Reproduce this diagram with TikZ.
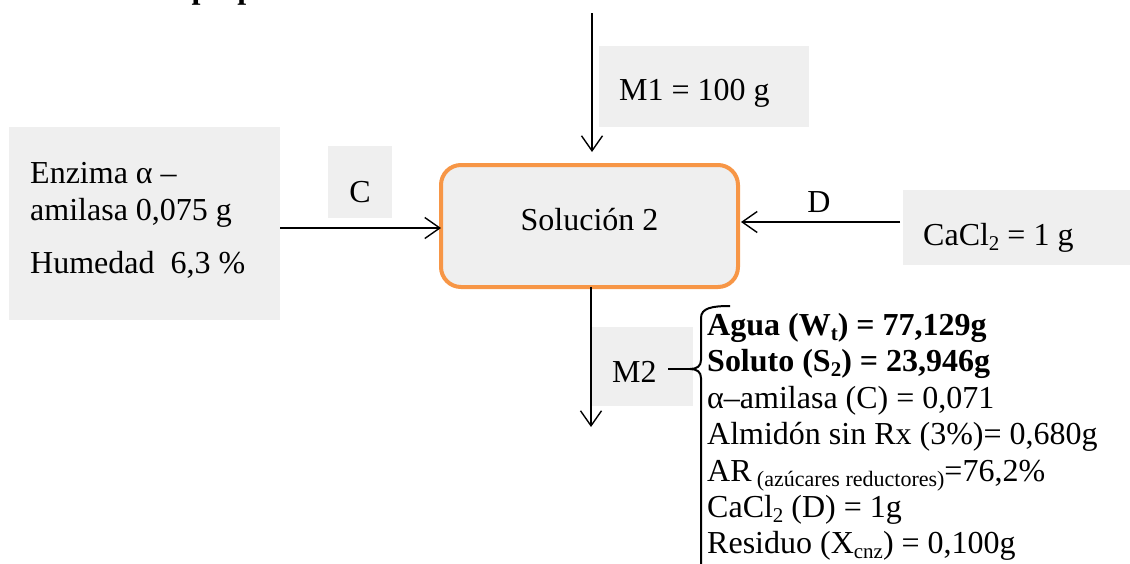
\documentclass[tikz,border=0pt]{standalone}
\usepackage{fontspec}
\setmainfont{Liberation Serif}
\usetikzlibrary{arrows.meta}
\definecolor{boxgray}{RGB}{239,239,239}
\definecolor{orng}{RGB}{247,150,70}
\newcommand\sbx[2][21]{\raisebox{-0.18em}{\fontsize{#1}{#1}\selectfont #2}}
\begin{document}
\begin{tikzpicture}[x=1pt,y=-1pt,
  txt/.style={anchor=base west,inner sep=0pt,font=\fontsize{32}{37}\selectfont},
  btxt/.style={anchor=base west,inner sep=0pt,font=\fontsize{32}{37}\selectfont\bfseries},
  graybox/.style={fill=boxgray,draw=none,anchor=north west,inner sep=0pt,outer sep=0pt},
  arr/.style={line width=1.4pt,-{Straight Barb[length=15pt,width=21pt,line width=1.4pt]}},
  plain/.style={line width=1.4pt}]
\useasboundingbox (0,0) rectangle (1130,563);
% title (cut off at top)
\node[btxt] (title) at (35,-1.5) {Balance de preparación de solución};
% left box
\node[graybox,minimum width=271pt,minimum height=193pt] (lbox) at (9,127) {};
\node[txt] (l1) at (30,183) {Enzima α –};
\node[txt] (l2) at (30,220) {amilasa 0,075 g};
\node[txt] (l3) at (30,273) {Humedad\ \ 6,3 \%};
% C label
\node[graybox,minimum width=64pt,minimum height=72pt] (cbox) at (328,146) {};
\node[txt,anchor=base] (clab) at (360,202) {C};
% process
\node[draw=orng,line width=4pt,fill=boxgray,rounded corners=20pt,minimum width=297pt,minimum height=122pt,inner sep=0pt,outer sep=0pt] (proc) at (589.5,226) {};
\node[txt,anchor=base] (ptxt) at (589.5,230) {Solución 2};
% M1
\node[graybox,minimum width=210pt,minimum height=81pt] (m1box) at (599,46) {};
\node[txt] (m1t) at (619,100) {M1 = 100 g};
\coordinate (m1s) at (592,13);
\draw[arr] (m1s) -- ([yshift=13pt]m1s |- proc.north);
% left arrow
\draw[arr] (lbox.east |- 0,228) -- (proc.west |- 0,228);
% right (CaCl2)
\node[graybox,minimum width=227pt,minimum height=75pt] (cacl) at (903,190) {};
\node[txt] (cat) at (923,245) {CaCl\sbx{2} = 1 g};
\node[txt,anchor=base] (dlab) at (819,212) {D};
\coordinate (ds) at (900,222);
\draw[arr] (ds) -- ([xshift=3pt]proc.east |- ds);
% M2
\node[graybox,minimum width=101pt,minimum height=79pt] (m2box) at (592,327) {};
\node[txt] (m2t) at (612,382) {M2};
\coordinate (m2e) at (591,427);
\draw[arr] (proc.south -| m2e) -- (m2e);
% brace
\coordinate (btip) at (690,369);
\coordinate (m2s) at (668,369);
\draw[line width=2pt] (730,306) .. controls (712,306) and (701,308) .. (701,318) -- (701,360)
   .. controls (701,366) and (697,369) .. (btip)
   .. controls (697,369) and (701,372) .. (701,378) -- (701,575);
\draw[plain] (m2s) -- (btip);
% list
\node[btxt] (r1) at (707,335) {Agua (W\sbx{t}) = 77,129g};
\node[btxt] (r2) at (707,371) {Soluto (S\sbx{2}) = 23,946g};
\node[txt] (r3) at (707,408) {α–amilasa (C) = 0,071};
\node[txt] (r4) at (707,444) {Almidón sin Rx (3\%)= 0,680g};
\node[txt] (r5) at (707,481) {AR\,\sbx[22]{(azúcares reductores)}=76,2\%};
\node[txt] (r6) at (707,517) {CaCl\sbx{2} (D) = 1g};
\node[txt] (r7) at (707,553) {Residuo (X\sbx{cnz}) = 0,100g};
\end{tikzpicture}
\end{document}
